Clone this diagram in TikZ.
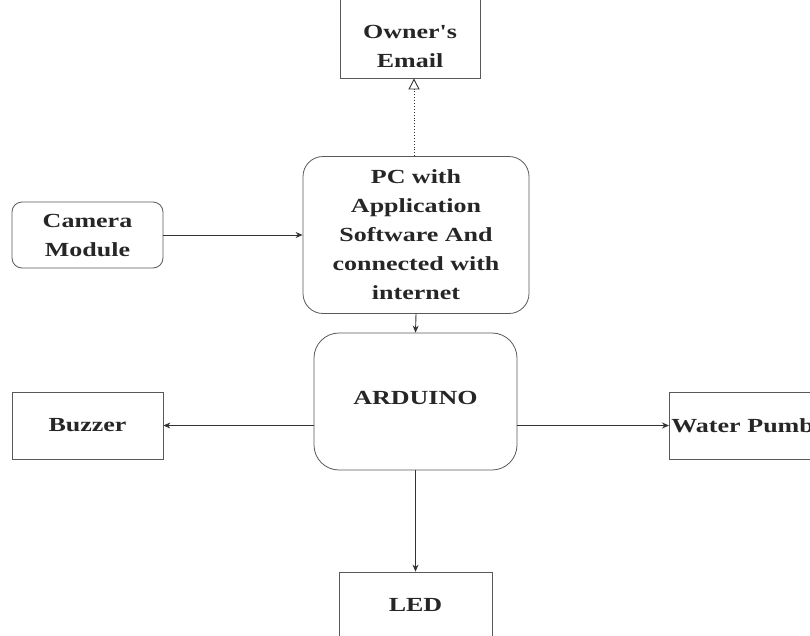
\documentclass[tikz,border=0pt]{standalone}
\usepackage{fontspec}
\setmainfont{Liberation Serif}[FakeStretch=1.3]
\newfontfamily\plainquote{Liberation Serif}[FakeStretch=1.3]
\usetikzlibrary{arrows.meta}
\tikzset{
  txt/.style={font=\bfseries\fontsize{20}{29}\selectfont, text=black!85, align=center},
  sqbox/.style={draw=black!65, line width=0.8pt, rectangle, inner sep=0pt, txt},
  rbox/.style={sqbox, rounded corners=#1},
  arr/.style={draw=black!80, line width=0.9pt, -{Stealth[length=7pt,width=6pt]}},
  emarr/.style={draw=black!80, line width=0.9pt, dotted, -{Triangle[open,length=11pt,width=11pt,line width=0.9pt]}}
}
\begin{document}
\begin{tikzpicture}[x=1pt,y=-1pt]
\useasboundingbox (0,0) rectangle (810,635);
\clip (0,0) rectangle (810,635);
\node[sqbox, minimum width=140pt, minimum height=110pt,
      label={[txt, yshift=-23pt]center:Owner{\plainquote '}s\\Email}] (owner) at (410,23) {};
\node[rbox=20pt, minimum width=226pt, minimum height=157pt] (pc) at (416,235)
  {PC with\\Application\\Software And\\connected with\\internet};
\node[rbox=10pt, minimum width=151pt, minimum height=66pt] (cam) at (87.5,235) {Camera\\Module};
\node[rbox=25pt, minimum width=203pt, minimum height=137pt] (ard) at (415.5,401.5)
  {\raisebox{8pt}{ARDUINO}};
\node[sqbox, minimum width=151pt, minimum height=67pt] (buz) at (87.5,425.5) {Buzzer};
\node[sqbox, minimum width=180pt, minimum height=67pt, anchor=west, text width=176pt,
      align=left, inner xsep=2pt] (pump) at (669,425.5) {Water Pumb};
\node[sqbox, minimum width=153pt, minimum height=66pt] (led) at (415.5,605) {LED};

\draw[emarr] (pc.north -| 414,0) -- (owner.south -| 414,0);
\draw[arr] (cam.east) -- (pc.west |- cam.east);
\draw[arr] (pc.south) -- (ard.north);
\draw[arr] (ard.west |- buz.east) -- (buz.east);
\draw[arr] (ard.east |- pump.west) -- (pump.west);
\draw[arr] (ard.south) -- (led.north);
\end{tikzpicture}
\end{document}
